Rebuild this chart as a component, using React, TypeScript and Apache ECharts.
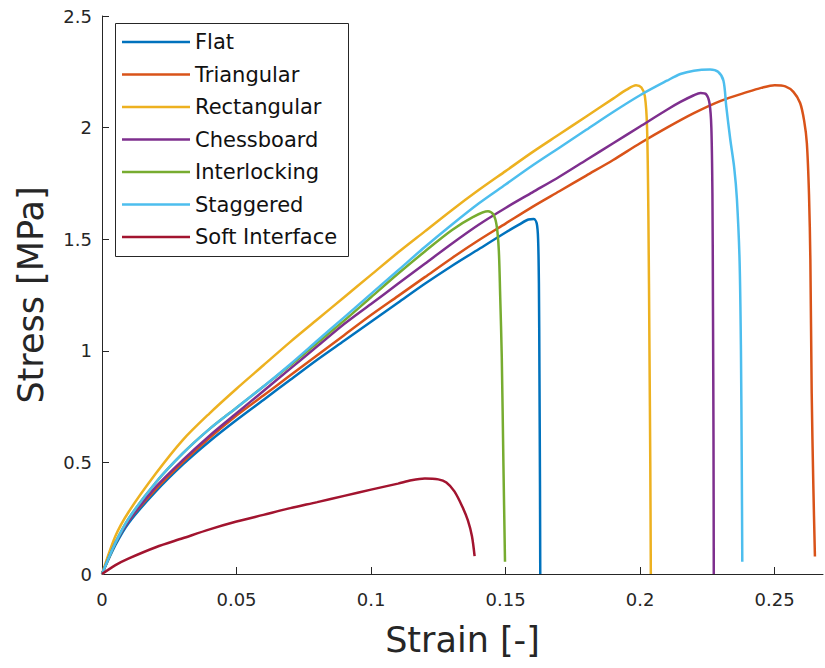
import React, { useEffect, useRef } from "react";
import * as echarts from "echarts";

const seriesNames = ["Flat", "Triangular", "Rectangular", "Chessboard", "Interlocking", "Staggered", "Soft Interface"];
const seriesColors = ["#0072BD", "#D95319", "#EDB120", "#7E2F8E", "#77AC30", "#4DBEEE", "#A2142F"];

const xTicks = [0, 0.05, 0.1, 0.15, 0.2, 0.25];
const yTicks = [0, 0.5, 1, 1.5, 2, 2.5];

const flatStrain = [0, 0.005, 0.01, 0.02, 0.03, 0.04, 0.05, 0.06, 0.07, 0.08, 0.09, 0.10, 0.11, 0.12, 0.13, 0.14, 0.15, 0.155, 0.1585, 0.1605, 0.1616, 0.1621, 0.1624, 0.1626, 0.1628, 0.1629];
const flatStress = [0, 0.13, 0.23, 0.37, 0.49, 0.595, 0.69, 0.78, 0.87, 0.96, 1.045, 1.13, 1.215, 1.30, 1.38, 1.455, 1.53, 1.565, 1.588, 1.59, 1.57, 1.50, 1.30, 0.90, 0.40, 0];

const triStrain = [0, 0.005, 0.01, 0.02, 0.03, 0.04, 0.05, 0.06, 0.07, 0.08, 0.09, 0.10, 0.11, 0.12, 0.13, 0.14, 0.15, 0.16, 0.17, 0.18, 0.19, 0.20, 0.21, 0.22, 0.23, 0.24, 0.245, 0.25, 0.254, 0.257, 0.2595, 0.261, 0.262, 0.2628, 0.2633, 0.2638, 0.2644, 0.265];
const triStress = [0, 0.14, 0.24, 0.38, 0.50, 0.61, 0.71, 0.80, 0.89, 0.98, 1.07, 1.16, 1.245, 1.33, 1.415, 1.495, 1.57, 1.645, 1.715, 1.785, 1.855, 1.93, 2.00, 2.065, 2.12, 2.16, 2.178, 2.19, 2.185, 2.16, 2.11, 2.03, 1.93, 1.70, 1.41, 0.81, 0.40, 0.078];

const rectStrain = [0, 0.005, 0.01, 0.02, 0.03, 0.04, 0.05, 0.06, 0.07, 0.08, 0.09, 0.10, 0.11, 0.12, 0.13, 0.14, 0.15, 0.16, 0.17, 0.18, 0.19, 0.195, 0.1985, 0.2005, 0.2018, 0.2026, 0.2031, 0.2035, 0.2038, 0.204];
const rectStress = [0, 0.17, 0.28, 0.45, 0.60, 0.72, 0.83, 0.935, 1.04, 1.14, 1.24, 1.34, 1.44, 1.535, 1.63, 1.72, 1.805, 1.89, 1.97, 2.05, 2.13, 2.17, 2.19, 2.18, 2.14, 2.0, 1.6, 1.0, 0.5, 0];

const chessStrain = [0, 0.005, 0.01, 0.02, 0.03, 0.04, 0.05, 0.06, 0.07, 0.08, 0.09, 0.10, 0.11, 0.12, 0.13, 0.14, 0.15, 0.16, 0.17, 0.18, 0.19, 0.20, 0.21, 0.215, 0.22, 0.2225, 0.2245, 0.2258, 0.2265, 0.2269, 0.2271, 0.2273, 0.2274];
const chessStress = [0, 0.14, 0.24, 0.39, 0.51, 0.62, 0.72, 0.82, 0.92, 1.02, 1.12, 1.21, 1.30, 1.39, 1.48, 1.565, 1.64, 1.71, 1.78, 1.855, 1.93, 2.005, 2.08, 2.115, 2.145, 2.155, 2.15, 2.11, 2.0, 1.7, 1.2, 0.6, 0];

const interStrain = [0, 0.005, 0.01, 0.02, 0.03, 0.04, 0.05, 0.06, 0.07, 0.08, 0.09, 0.10, 0.11, 0.12, 0.13, 0.138, 0.1435, 0.1455, 0.1467, 0.1475, 0.148, 0.1486, 0.1492, 0.1498];
const interStress = [0, 0.14, 0.25, 0.41, 0.54, 0.65, 0.745, 0.84, 0.935, 1.035, 1.135, 1.24, 1.345, 1.445, 1.54, 1.60, 1.625, 1.61, 1.56, 1.45, 1.25, 0.97, 0.5, 0.055];

const stagStrain = [0, 0.005, 0.01, 0.02, 0.03, 0.04, 0.05, 0.06, 0.07, 0.08, 0.09, 0.10, 0.11, 0.12, 0.13, 0.14, 0.15, 0.16, 0.17, 0.18, 0.19, 0.20, 0.21, 0.215, 0.22, 0.226, 0.229, 0.231, 0.232, 0.2335, 0.235, 0.236, 0.237, 0.2375, 0.2378, 0.238];
const stagStress = [0, 0.14, 0.25, 0.41, 0.54, 0.65, 0.745, 0.84, 0.94, 1.045, 1.15, 1.255, 1.36, 1.465, 1.565, 1.66, 1.745, 1.83, 1.91, 1.99, 2.07, 2.145, 2.21, 2.24, 2.255, 2.26, 2.25, 2.21, 2.10, 1.95, 1.82, 1.68, 1.40, 1.0, 0.5, 0.055];

const softStrain = [0, 0.005, 0.01, 0.02, 0.03, 0.04, 0.05, 0.06, 0.07, 0.08, 0.09, 0.10, 0.11, 0.115, 0.12, 0.125, 0.128, 0.131, 0.134, 0.136, 0.1375, 0.1385];
const softStress = [0, 0.04, 0.07, 0.12, 0.16, 0.20, 0.235, 0.265, 0.295, 0.322, 0.35, 0.378, 0.405, 0.42, 0.428, 0.424, 0.41, 0.37, 0.30, 0.24, 0.17, 0.08];

const strainSets = [flatStrain, triStrain, rectStrain, chessStrain, interStrain, stagStrain, softStrain];
const stressSets = [flatStress, triStress, rectStress, chessStress, interStress, stagStress, softStress];

const FONT = "DejaVu Sans";
const AXIS_COLOR = "#262626";

export default function App() {
  const ref = useRef<HTMLDivElement>(null);
  useEffect(() => {
    if (!ref.current) return;
    const chart = echarts.init(ref.current, null, { renderer: "svg" });
    const series = seriesNames.map((name, i) => ({
      name,
      type: "line",
      symbol: "none",
      showSymbol: false,
      smooth: 0.3,
      color: seriesColors[i],
      itemStyle: { color: seriesColors[i] },
      lineStyle: { width: 2.5, color: seriesColors[i] },
      data: strainSets[i].map((s, j) => [s, stressSets[i][j]]),
    }));
    chart.setOption({
      animation: false,
      backgroundColor: "#ffffff",
      grid: { left: 102, right: 2, top: 16, bottom: 94, containLabel: false },
      xAxis: {
        type: "value",
        min: 0,
        max: 0.268,
        name: "Strain [-]",
        nameLocation: "middle",
        nameGap: 48,
        nameTextStyle: { fontFamily: FONT, fontSize: 35, color: AXIS_COLOR },
        axisLine: { show: true, onZero: false, lineStyle: { color: AXIS_COLOR, width: 1 } },
        axisTick: { show: true, inside: true, length: 7, customValues: xTicks, lineStyle: { color: AXIS_COLOR } },
        axisLabel: {
          customValues: xTicks,
          margin: 16,
          fontFamily: FONT,
          fontSize: 18,
          color: AXIS_COLOR,
          formatter: (v: number) => String(Math.round(v * 100) / 100),
        },
        splitLine: { show: false },
      },
      yAxis: {
        type: "value",
        min: 0,
        max: 2.5,
        interval: 0.5,
        name: "Stress [MPa]",
        nameLocation: "middle",
        nameGap: 54,
        nameTextStyle: { fontFamily: FONT, fontSize: 35, color: AXIS_COLOR },
        axisLine: { show: true, onZero: false, lineStyle: { color: AXIS_COLOR, width: 1 } },
        axisTick: { show: true, inside: true, length: 7, customValues: yTicks, lineStyle: { color: AXIS_COLOR } },
        axisLabel: {
          customValues: yTicks,
          margin: 10,
          fontFamily: FONT,
          fontSize: 18,
          color: AXIS_COLOR,
          formatter: (v: number) => String(v),
        },
        splitLine: { show: false },
      },
      graphic: [
        {
          type: "rect",
          z: 3,
          shape: { x: 115.5, y: 23.5, width: 233, height: 233 },
          style: { fill: "#ffffff", stroke: AXIS_COLOR, lineWidth: 1 },
        },
      ],
      legend: {
        orient: "vertical",
        left: 122,
        top: 30,
        padding: 0,
        icon: "rect",
        itemWidth: 68,
        itemHeight: 2.5,
        itemGap: 8.5,
        z: 5,
        textStyle: { fontFamily: FONT, fontSize: 21, lineHeight: 24, color: "#111111" },
        data: seriesNames,
      },
      series,
    });
    return () => chart.dispose();
  }, []);
  return (
    <div
      ref={ref}
      style={{ position: "fixed", left: 0, top: 0, width: 825, height: 668 }}
    />
  );
}
